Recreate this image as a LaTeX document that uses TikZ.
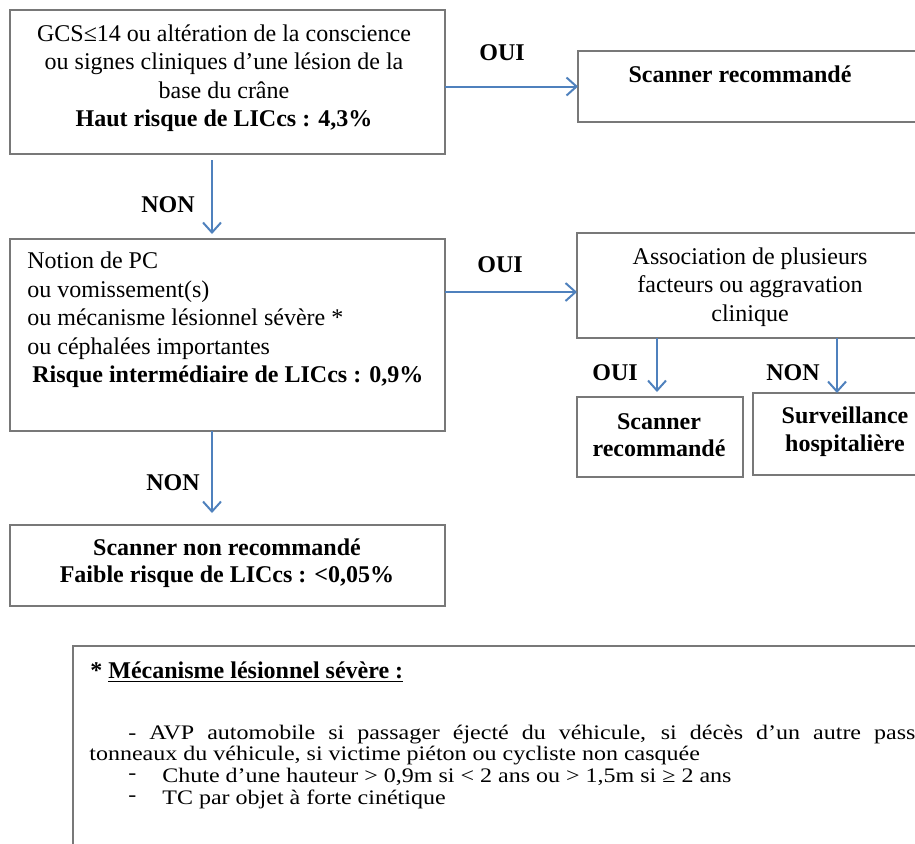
\documentclass[tikz,border=0pt]{standalone}
\usepackage{fontspec}
\setmainfont{Liberation Serif}
\usetikzlibrary{arrows.meta}
\definecolor{arrowblue}{RGB}{79,129,189}
\definecolor{boxgray}{RGB}{120,120,120}
\newcommand{\squash}[1]{\scalebox{1}[0.86]{#1}}
\begin{document}
\begin{tikzpicture}[x=0.5pt,y=-0.5pt,
  box/.style={draw=boxgray,line width=0.8pt,inner sep=0,outer sep=0},
  txt/.style={inner sep=0,font=\fontsize{12}{14.25}\selectfont},
  lbl/.style={inner sep=0,font=\fontsize{12}{14.25}\selectfont\bfseries},
  arr/.style={draw=arrowblue,line width=1pt,-{Straight Barb[length=5pt,width=9pt]}}]
\useasboundingbox (0,0) rectangle (915,843);
\clip (0,0) rectangle (915,843);

% boxes
\node[box,minimum width=217.5pt,minimum height=72pt] (b1) at (227.5,82) {};
\node[box,minimum width=181pt,minimum height=35.5pt] (b2) at (759,86.5) {};
\node[box,minimum width=217.5pt,minimum height=96pt] (b3) at (227.5,335) {};
\node[box,minimum width=181.5pt,minimum height=52.5pt] (b4) at (758.5,285.5) {};
\node[box,minimum width=83pt,minimum height=40pt] (b5) at (660,437) {};
\node[box,minimum width=93.5pt,minimum height=41pt] (b6) at (846.5,434) {};
\node[box,minimum width=217.5pt,minimum height=40.5pt] (b7) at (227.5,565.5) {};
\node[box,minimum width=433.5pt,minimum height=107pt] (b8) at (506.5,753) {};

% box texts
\node[txt,align=center] (t1) at (224,78) {GCS≤14 ou altération de la conscience\\ou signes cliniques d’une lésion de la\\base du crâne\\\textbf{Haut risque de LICcs : 4,3\%}};
\node[lbl] (t2) at (740,74) {Scanner recommandé};
\node[txt,align=left,anchor=west] (t3) at (27,320) {Notion de PC\\ou vomissement(s)\\ou mécanisme lésionnel sévère *\\ou céphalées importantes\\\hspace*{2.5pt}\textbf{Risque intermédiaire de LICcs : 0,9\%}};
\node[txt,align=center] (t4) at (750,287) {Association de plusieurs\\facteurs ou aggravation\\clinique};
\node[lbl,align=center,font=\fontsize{12}{13.5}\selectfont\bfseries] (t5) at (659,435) {Scanner\\recommandé};
\node[lbl,align=center,font=\fontsize{12}{14}\selectfont\bfseries] (t6) at (845,432) {Surveillance\\hospitalière};
\node[lbl,align=center,font=\fontsize{12}{13.5}\selectfont\bfseries] (t7) at (227,563) {Scanner non recommandé\\Faible risque de LICcs : <0,05\%};

% footnote
\node[txt,anchor=west] (f0) at (90,672) {\textbf{* \underline{Mécanisme lésionnel sévère :}}};
\node[txt,anchor=west] (f1) at (128,735) {\squash{\makebox[393.5pt][s]{- AVP automobile si passager éjecté du véhicule, si décès d’un autre pass}}};
\node[txt,anchor=west] (f2) at (89,756) {\squash{tonneaux du véhicule, si victime piéton ou cycliste non casquée}};
\node[txt,anchor=west] (d3) at (128,777) {\squash{-}};
\node[txt,anchor=west] (f3) at (162,777) {\squash{Chute d’une hauteur > 0,9m si < 2 ans ou > 1,5m si ≥ 2 ans}};
\node[txt,anchor=west] (d4) at (128,799) {\squash{-}};
\node[txt,anchor=west] (f4) at (162,799) {\squash{TC par objet à forte cinétique}};

% labels
\node[lbl] (o1) at (502,53) {OUI};
\node[lbl] (n1) at (168,205) {NON};
\node[lbl] (o2) at (500,265) {OUI};
\node[lbl] (n2) at (173,483) {NON};
\node[lbl] (o3) at (615,373) {OUI};
\node[lbl] (n3) at (793,373) {NON};

% connectors
\coordinate (xa) at (212,0);
\coordinate (ya) at (0,292);
\coordinate (xb) at (657,0);
\coordinate (xc) at (837,0);
\draw[arr] (b1.east |- b2.west) -- (b2.west);
\draw[arr] (b3.east |- ya) -- (b4.west |- ya);
\draw[arr,shorten <=3pt,shorten >=2.5pt] (b1.south -| xa) -- (b3.north -| xa);
\draw[arr,shorten >=6pt] (b3.south -| xa) -- (b7.north -| xa);
\draw[arr,shorten >=2.5pt] (b4.south -| xb) -- (b5.north -| xb);
\draw[arr] (b4.south -| xc) -- (b6.north -| xc);
\end{tikzpicture}
\end{document}
